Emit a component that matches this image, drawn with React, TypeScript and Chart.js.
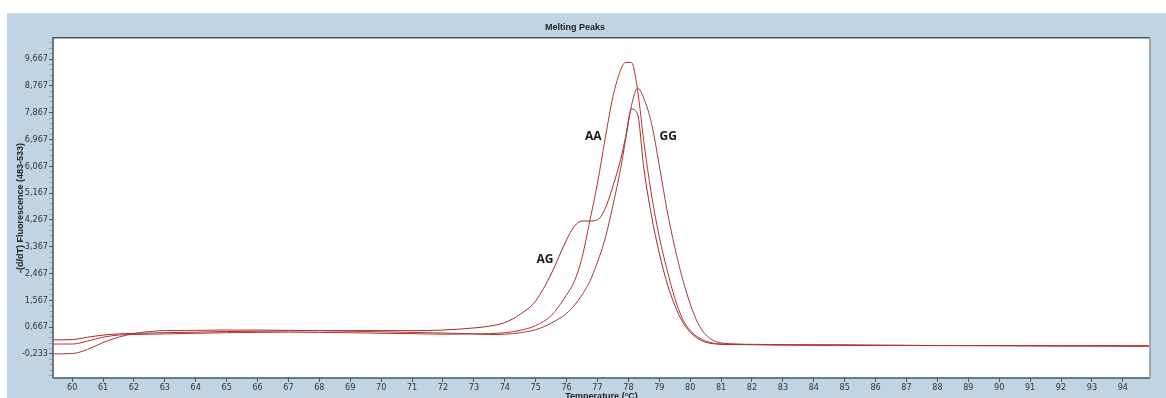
import React, { useEffect, useRef } from "react";
import { Chart, registerables } from "chart.js";

Chart.register(...registerables);

// ---- data ----
const temps = [
  59.4, 60, 60.5, 61, 61.5, 62, 62.5, 63, 64, 65, 66, 67, 68, 69, 70, 71, 72, 73,
  73.5, 74, 74.5, 75, 75.5, 76, 76.25, 76.5, 76.75, 77, 77.25, 77.5, 77.75, 77.9,
  78.1, 78.3, 78.5, 78.75, 79, 79.25, 79.5, 79.75, 80, 80.25, 80.5, 80.75, 81,
  81.5, 82, 83, 84, 85, 86, 88, 90, 92, 94, 94.85,
];

const aaValues = [
  0.1, 0.1, 0.2, 0.33, 0.4, 0.42, 0.43, 0.44, 0.46, 0.48, 0.49, 0.5, 0.49, 0.48, 0.46, 0.45, 0.43, 0.44,
  0.45, 0.48, 0.56, 0.72, 1.05, 1.75, 2.2, 3.0, 4.23, 5.5, 7.0, 8.4, 9.3, 9.55,
  9.55, 8.6, 6.9, 5.1, 3.7, 2.6, 1.65, 0.95, 0.55, 0.33, 0.2, 0.13, 0.1,
  0.09, 0.08, 0.07, 0.07, 0.06, 0.06, 0.05, 0.05, 0.04, 0.04, 0.04,
];

const ggValues = [
  -0.23, -0.22, -0.08, 0.15, 0.33, 0.45, 0.52, 0.55, 0.56, 0.57, 0.57, 0.56, 0.55, 0.53, 0.51, 0.49, 0.47, 0.44,
  0.42, 0.43, 0.48, 0.58, 0.8, 1.13, 1.4, 1.75, 2.2, 2.85, 3.65, 4.75, 6.0, 6.9,
  8.1, 8.69, 8.35, 7.5, 6.1, 4.6, 3.35, 2.3, 1.45, 0.8, 0.42, 0.22, 0.14,
  0.1, 0.09, 0.08, 0.07, 0.07, 0.06, 0.05, 0.05, 0.04, 0.04, 0.04,
];

const agValues = [
  0.24, 0.25, 0.33, 0.4, 0.44, 0.46, 0.47, 0.48, 0.5, 0.52, 0.53, 0.54, 0.55, 0.55, 0.55, 0.55, 0.57, 0.64,
  0.7, 0.82, 1.1, 1.55, 2.45, 3.6, 4.05, 4.23, 4.23, 4.27, 4.65, 5.4, 6.3, 7.0,
  7.99, 7.8, 6.0, 4.4, 3.15, 2.15, 1.4, 0.85, 0.5, 0.28, 0.16, 0.11, 0.09,
  0.08, 0.08, 0.07, 0.06, 0.06, 0.05, 0.05, 0.04, 0.04, 0.03, 0.03,
];

const xTickValues = [
  60, 61, 62, 63, 64, 65, 66, 67, 68, 69, 70, 71, 72, 73, 74, 75, 76, 77, 78, 79,
  80, 81, 82, 83, 84, 85, 86, 87, 88, 89, 90, 91, 92, 93, 94,
];
const yTickValues = [-0.233, 0.667, 1.567, 2.467, 3.367, 4.267, 5.167, 6.067, 6.967, 7.867, 8.767, 9.667];
const yMinorPerMajor = 5;

const curveNames = ["AA", "GG", "AG"];
const curveLabelX = [76.86, 79.29, 75.3];
const curveLabelY = [7.07, 7.07, 2.92];

const xMin = 59.38;
const xMax = 94.88;
const yMin = -1.04;
const yMax = 10.38;

const narrow = "'Liberation Sans Narrow', 'Arial Narrow', 'DejaVu Sans Condensed', sans-serif";
const sans = "'Liberation Sans', Arial, sans-serif";

const fmt = (v: number) => (Math.round(v * 1000) / 1000).toFixed(3).replace(".", ",");

export default function App() {
  const canvasRef = useRef<HTMLCanvasElement | null>(null);

  useEffect(() => {
    const canvas = canvasRef.current;
    if (!canvas) return;

    const yStep = (yTickValues[1] - yTickValues[0]) / yMinorPerMajor;
    const yAll: { value: number; major: boolean }[] = [];
    for (let j = -20; j < 200; j++) {
      const v = yTickValues[0] + yStep * j;
      if (v < yMin || v > yMax) continue;
      yAll.push({ value: v, major: j % yMinorPerMajor === 0 });
    }

    const decor = {
      id: "decor",
      beforeDraw(chart: any) {
        const { ctx, chartArea: a, width, height } = chart;
        ctx.save();
        ctx.fillStyle = "#ffffff";
        ctx.fillRect(0, 0, width, height);
        ctx.fillStyle = "#c1d4e4";
        ctx.fillRect(7, 13, width - 7, height - 13);
        ctx.fillStyle = "#ffffff";
        ctx.fillRect(a.left, a.top, a.right - a.left, a.bottom - a.top);
        ctx.restore();
      },
      afterDraw(chart: any) {
        const { ctx, chartArea: a, scales } = chart;
        ctx.save();
        ctx.lineWidth = 1.5;
        ctx.strokeStyle = "#4a5661";
        ctx.beginPath();
        ctx.moveTo(a.left, a.bottom);
        ctx.lineTo(a.left, a.top);
        ctx.lineTo(a.right, a.top);
        ctx.stroke();
        ctx.beginPath();
        ctx.moveTo(a.left, a.bottom);
        ctx.lineTo(a.right, a.bottom);
        ctx.stroke();
        ctx.strokeStyle = "#8f979e";
        ctx.lineWidth = 1.5;
        ctx.beginPath();
        ctx.moveTo(a.right, a.top);
        ctx.lineTo(a.right, a.bottom);
        ctx.stroke();

        ctx.fillStyle = "#1a1a1a";
        ctx.font = "bold 12px 'Open Sans', 'Liberation Sans', sans-serif";
        ctx.textAlign = "center";
        ctx.textBaseline = "middle";
        curveNames.forEach((n, i) => {
          ctx.fillText(n, scales.x.getPixelForValue(curveLabelX[i]), scales.y.getPixelForValue(curveLabelY[i]));
        });
        ctx.restore();
      },
    };

    const mk = (label: string, vals: number[], color: string) => ({
      label,
      data: temps.map((t, i) => ({ x: t, y: vals[i] })),
      borderColor: color,
      backgroundColor: color,
      borderWidth: 1,
      pointRadius: 0,
      fill: false,
      cubicInterpolationMode: "monotone" as const,
    });

    const chart = new Chart(canvas, {
      type: "line",
      data: {
        datasets: [
          mk("AA", aaValues, "#b83232"),
          mk("GG", ggValues, "#a83838"),
          mk("AG", agValues, "#a02c2c"),
        ],
      },
      plugins: [decor],
      options: {
        animation: false,
        responsive: false,
        devicePixelRatio: 1,
        layout: { padding: { left: 0, top: 0, right: 16, bottom: 0 } },
        plugins: {
          legend: { display: false },
          tooltip: { enabled: false },
          title: {
            display: true,
            text: "Melting Peaks",
            color: "#222222",
            font: { family: sans, size: 9, weight: "bold" },
            padding: { top: 22, bottom: 5 },
          },
        },
        scales: {
          x: {
            type: "linear",
            min: xMin,
            max: xMax,
            afterFit: (s: any) => {
              s.height = 20;
            },
            afterBuildTicks: (s: any) => {
              s.ticks = xTickValues.map((v) => ({ value: v }));
            },
            grid: { drawOnChartArea: false, drawTicks: true, tickLength: 4, color: "#555555" },
            border: { display: false },
            ticks: {
              autoSkip: false,
              maxRotation: 0,
              padding: 0,
              color: "#333333",
              font: { family: narrow, size: 9 },
              callback: (v: any) => String(v),
            },
            title: {
              display: true,
              text: "Temperature (°C)",
              color: "#222222",
              font: { family: sans, size: 9, weight: "bold", lineHeight: 1 },
              padding: { top: 0, bottom: -3 },
            },
          },
          y: {
            type: "linear",
            min: yMin,
            max: yMax,
            afterFit: (s: any) => {
              s.width = 53;
            },
            afterBuildTicks: (s: any) => {
              s.ticks = yAll.map((t) => ({ value: t.value, major: t.major }));
            },
            grid: {
              drawOnChartArea: false,
              drawTicks: true,
              tickLength: 4,
              color: (c: any) => (c.tick && c.tick.major ? "#555555" : "#a0a8b0"),
            },
            border: { display: false },
            ticks: {
              autoSkip: false,
              padding: 1,
              color: "#333333",
              font: { family: narrow, size: 9 },
              callback: function (v: any, i: number) {
                return yAll[i] && yAll[i].major ? fmt(Number(v)) : "";
              },
            },
            title: {
              display: true,
              text: "-(d/dT) Fluorescence (483-533)",
              color: "#222222",
              font: { family: sans, size: 9, weight: "bold", lineHeight: 1 },
              padding: { top: 16, bottom: 0 },
            },
          },
        },
      },
    } as any);

    return () => chart.destroy();
  }, []);

  return (
    <div style={{ position: "absolute", left: 0, top: 0, width: 1166, height: 398 }}>
      <canvas ref={canvasRef} width={1166} height={398} style={{ display: "block" }} />
    </div>
  );
}
